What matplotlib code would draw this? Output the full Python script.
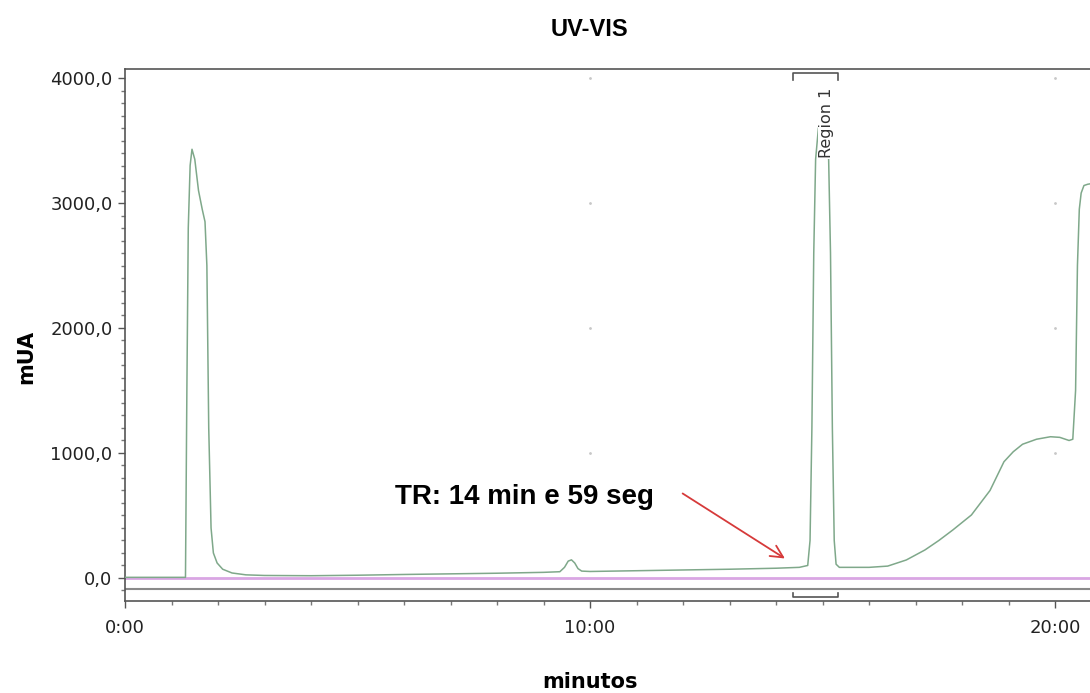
import matplotlib.pyplot as plt
from matplotlib.ticker import MultipleLocator, FuncFormatter

tempo = [0.0, 1.30, 1.33, 1.36, 1.40, 1.44, 1.50, 1.58, 1.66, 1.72, 1.76, 1.80,
         1.85, 1.90, 1.98, 2.10, 2.30, 2.60, 3.0, 4.0, 5.0, 6.0, 7.0, 8.0,
         9.0, 9.35, 9.45, 9.53, 9.60, 9.67, 9.74, 9.82, 10.0, 11.0, 12.0, 13.0,
         14.0, 14.5, 14.68, 14.73, 14.77, 14.81, 14.85, 14.91, 14.99, 15.07,
         15.13, 15.17, 15.21, 15.25, 15.29, 15.36, 16.0, 16.4, 16.8, 17.2,
         17.5, 17.8, 18.2, 18.6, 18.9, 19.1, 19.3, 19.6, 19.9, 20.1, 20.3,
         20.38, 20.44, 20.48, 20.52, 20.56, 20.62, 20.70, 20.85]
sinal = [5, 5, 1500, 2800, 3300, 3430, 3350, 3100, 2950, 2850, 2500, 1200,
         400, 200, 120, 70, 40, 25, 20, 18, 22, 28, 33, 38,
         45, 50, 85, 135, 145, 120, 75, 55, 52, 58, 64, 70,
         78, 85, 100, 300, 1200, 2600, 3350, 3600, 3650, 3600,
         3350, 2600, 1200, 300, 110, 85, 85, 95, 144, 224,
         300, 384, 504, 700, 930, 1010, 1070, 1110, 1130, 1125, 1100,
         1110, 1500, 2500, 2950, 3080, 3140, 3150, 3160]

yticks = [0, 1000, 2000, 3000, 4000]
xticks = [0, 10, 20]

fig = plt.figure(figsize=(10.9, 6.93), dpi=100)
ax = fig.add_axes([0.1147, 0.1328, 0.8853, 0.7676])

ax.axhline(0, color='#d9a6e3', lw=2, zorder=1)
ax.axhline(-88, color='#8a8a8a', lw=1.5, zorder=1)
ax.plot(tempo, sinal, color='#7fa88a', lw=1.1, zorder=3)

# pontinhos da grade
for xt in xticks[1:]:
    for yt in [1000, 2000, 3000, 4000]:
        ax.plot(xt, yt, marker='.', ms=2, color='#c8c8c8', zorder=0)

# colchetes da região
ax.plot([14.37, 14.37, 15.33, 15.33], [3984, 4040, 4040, 3984], color='#555555', lw=1.2)
ax.plot([14.37, 14.37, 15.33, 15.33], [-120, -152, -152, -120], color='#555555', lw=1.2)
ax.text(15.08, 3640, 'Region 1', rotation=90, ha='center', va='center',
        fontsize=11.5, color='#333333', zorder=4,
        bbox=dict(facecolor='white', edgecolor='none', pad=0.5))

ax.annotate('', xy=(14.24, 144), xytext=(11.94, 688),
            arrowprops=dict(arrowstyle='->', color='#d63a3a', lw=1.3, mutation_scale=22))
ax.text(5.81, 650, 'TR: 14 min e 59 seg', fontsize=20, fontweight='bold',
        family='Liberation Sans', va='center', ha='left')

ax.set_xlim(0, 20.75)
ax.set_ylim(-184, 4072)
ax.set_xticks(xticks)
ax.set_yticks(yticks)
ax.xaxis.set_minor_locator(MultipleLocator(1))
ax.yaxis.set_minor_locator(MultipleLocator(100))
ax.xaxis.set_major_formatter(FuncFormatter(lambda v, p: f'{int(v)}:00'))
ax.yaxis.set_major_formatter(FuncFormatter(lambda v, p: f'{v:.1f}'.replace('.', ',')))
ax.tick_params(which='major', length=5, width=1, color='#555555', labelsize=13,
               labelcolor='#222222', pad=4)
ax.tick_params(which='minor', length=3, width=1, color='#777777')
ax.tick_params(axis='x', which='major', pad=8)
ax.spines['right'].set_visible(False)
for s in ['left', 'top', 'bottom']:
    ax.spines[s].set_color('#555555')
    ax.spines[s].set_linewidth(1.2)

fig.text(0.541, 0.957, 'UV-VIS', fontsize=17, fontweight='bold',
         family='Liberation Sans', ha='center', va='center')
fig.text(0.541, 0.016, 'minutos', fontsize=15, fontweight='bold', ha='center', va='center')
fig.text(0.024, 0.485, 'mUA', fontsize=15, fontweight='bold', rotation=90,
         ha='center', va='center')

fig.savefig('out.png', dpi=100)
